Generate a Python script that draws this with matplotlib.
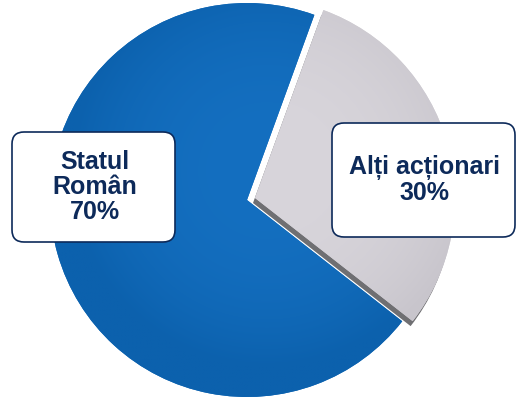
import numpy as np
import matplotlib.pyplot as plt
from matplotlib.patches import Wedge, FancyBboxPatch

# shareholder structure
labels = ["Statul\nRomân", "Alți acționari"]
shares = [70, 30]
colors = ["#0f6abb", "#d3d0d7"]

W, H = 517, 401
fig = plt.figure(figsize=(W / 100, H / 100), dpi=100)
ax = fig.add_axes([0, 0, 1, 1])

center = (247, 201)
radius = 197

wedges, _ = ax.pie(shares, startangle=70, counterclock=True, center=center,
                   radius=radius, colors=colors,
                   wedgeprops=dict(linewidth=0, antialiased=True))
ax.set_xlim(0, W)
ax.set_ylim(0, H)
ax.set_aspect("equal")
ax.axis("off")

# pull the small slice out a little
blue, grey = wedges
grey.set_center((255, 203))
grey.set_radius(200)
blue.set_zorder(1)
grey.set_zorder(3)

# dark side of the raised slice
side = Wedge((253, 198), 200, grey.theta1, grey.theta2,
             facecolor="#6f6f72", linewidth=0, zorder=2)
ax.add_patch(side)


def shade(wedge, inner, outer, z):
    cx, cy = wedge.center
    r = wedge.r
    n = 300
    xs = np.linspace(cx - r, cx + r, n)
    ys = np.linspace(cy - r, cy + r, n)
    X, Y = np.meshgrid(xs, ys)
    d = np.clip(np.hypot(X - cx - 0.1 * r, Y - cy - 0.15 * r) / r, 0, 1)
    t = d ** 2.5
    c0 = np.array(plt.matplotlib.colors.to_rgb(inner))
    c1 = np.array(plt.matplotlib.colors.to_rgb(outer))
    img = c0 * (1 - t[..., None]) + c1 * t[..., None]
    im = ax.imshow(img, extent=(cx - r, cx + r, cy - r, cy + r),
                   origin="lower", zorder=z, interpolation="bilinear")
    im.set_clip_path(wedge)


shade(blue, "#146fc0", "#0c61ad", 1.5)
shade(grey, "#d8d5db", "#c8c5cc", 3.5)

navy = "#0d2a5a"


def label_box(x0, y0, x1, y1, text):
    box = FancyBboxPatch((x0 + 12, y0 + 12), x1 - x0 - 24, y1 - y0 - 24,
                         boxstyle="round,pad=12", facecolor="white",
                         edgecolor=navy, linewidth=1.2, zorder=5)
    ax.add_patch(box)
    ax.text((x0 + x1) / 2 + 1, (y0 + y1) / 2, text, ha="center", va="center",
            fontsize=18, fontweight="bold", color=navy,
            family=["Liberation Sans", "DejaVu Sans"], linespacing=1.05,
            zorder=6)


label_box(12, H - 242, 175, H - 132, f"{labels[0]}\n{shares[0]}%")
label_box(332, H - 237, 515, H - 123, f"{labels[1]}\n{shares[1]}%")

fig.savefig("out.png", dpi=100, facecolor="white")
